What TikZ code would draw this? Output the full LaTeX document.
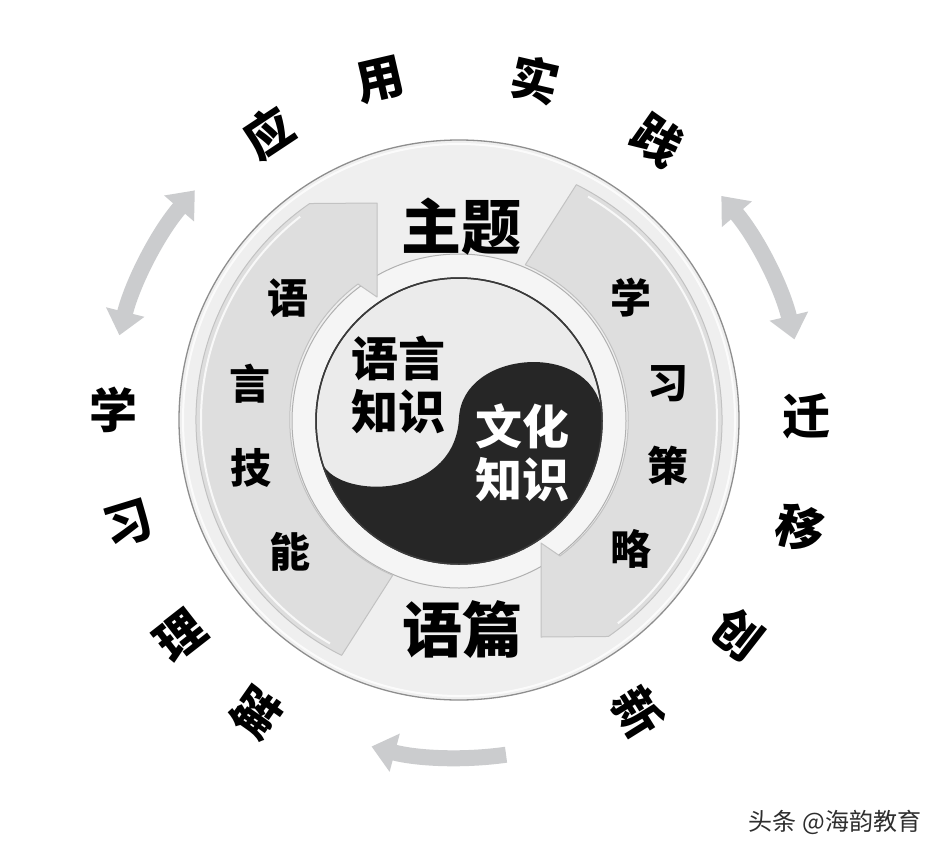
\documentclass[tikz,border=0pt]{standalone}
\usepackage{fontspec}
\newfontfamily\cjk{Noto Sans CJK SC}
\usetikzlibrary{arrows.meta}
\definecolor{discfill}{HTML}{EFEFEF}
\definecolor{discline}{HTML}{8E8E8E}
\definecolor{bandfill}{HTML}{DEDEDE}
\definecolor{bandline}{HTML}{C2C2C2}
\definecolor{ringfill}{HTML}{F5F5F5}
\definecolor{ringline}{HTML}{B0B0B0}
\definecolor{yinlight}{HTML}{EBEBEB}
\definecolor{yindark}{HTML}{262626}
\definecolor{yinline}{HTML}{3A3A3A}
\definecolor{arrowgray}{HTML}{CBCCCE}
\definecolor{wmgray}{HTML}{2E2E2E}
\begin{document}
\begin{tikzpicture}[x=1pt,y=1pt,yscale=-1,
  ringchar/.style={font=\cjk\bfseries\fontsize{48}{48}\selectfont, inner sep=0pt},
  bandchar/.style={font=\cjk\bfseries\fontsize{41}{41}\selectfont, inner sep=0pt},
  bigword/.style={font=\cjk\bfseries\fontsize{60}{60}\selectfont, inner sep=0pt},
  core/.style={font=\cjk\bfseries\fontsize{47}{53}\selectfont, align=center, inner sep=0pt},
  flow/.style={line width=16pt, draw=arrowgray},
  flowtip/.tip={Triangle[width=38pt,length=24pt]},
  band/.style={fill=bandfill, draw=bandline, line width=1pt, line join=round},
  bandlight/.style={draw=white, line width=2pt, opacity=0.8}
]
\useasboundingbox (0,0) rectangle (942,854);
\fill[white] (0,0) rectangle (942,854);
\coordinate (C) at (459,420);
\coordinate (Y) at (459,421);

% outer disc
\filldraw[fill=discfill, draw=discline, line width=1.3pt] (C) circle[radius=280];
\draw[white, line width=2pt, opacity=0.8] (C) circle[radius=276];
% ring round the core
\filldraw[fill=ringfill, draw=ringline, line width=1pt] (Y) circle[radius=167];

% left band arrow (bottom -> top)
\path (C) ++(116.5:263) coordinate (lbt);
\path[band] (lbt) arc[start angle=116.5, end angle=235.4, radius=263]
  -- (377,203) -- (377,297) -- (358,284)
  arc[start angle=233.4, end angle=113, radius=169] -- cycle;
\path (C) ++(120:258) coordinate (lbh);
\draw[bandlight] (lbh) arc[start angle=120, end angle=232, radius=258];
% right band arrow (top -> bottom)
\path (C) ++(296.5:263) coordinate (rbt);
\path[band] (rbt) arc[start angle=296.5, end angle=415.4, radius=263]
  -- (541,637) -- (541,543) -- (560,556)
  arc[start angle=53.4, end angle=-67, radius=169] -- cycle;
\path (C) ++(300:258) coordinate (rbh);
\draw[bandlight] (rbh) arc[start angle=300, end angle=412, radius=258];

% yin-yang core
\filldraw[fill=yinlight, draw=yinline, line width=1.5pt] (Y) circle[radius=143];
\path (Y) ++(-4.4:143) coordinate (YR);
\path (Y) ++(166.4:143) coordinate (YL);
\coordinate (YM) at (459,418);
\fill[yindark] (YR) .. controls (590,340) and (462,350) .. (YM)
  .. controls (455,505) and (322,500) .. (YL)
  arc[start angle=166.4, end angle=-4.4, radius=143] -- cycle;
\draw[yinline, line width=1.5pt] (Y) circle[radius=143];

% core texts
\node[core, text=black] (lk) at (398,385) {语言\\知识};
\node[core, text=white] (ck) at (522,453) {文化\\知识};

% top and bottom words
\node[bigword] (zt) at (461,227) {主题};
\node[bigword] (yp) at (462,630) {语篇};

% band characters
\node[bandchar] (b1) at (288,298) {语};
\node[bandchar] (b2) at (250,384) {言};
\node[bandchar] (b3) at (251,468) {技};
\node[bandchar] (b4) at (290,552) {能};
\node[bandchar] (b5) at (631,298) {学};
\node[bandchar] (b6) at (668,384) {习};
\node[bandchar] (b7) at (668,466) {策};
\node[bandchar] (b8) at (631,549) {略};

% outer ring characters
\node[ringchar, rotate=33.5] (o1) at (268,133) {应};
\node[ringchar, rotate=13] (o2) at (380,80) {用};
\node[ringchar, rotate=-13] (o3) at (535,80) {实};
\node[ringchar, rotate=-35] (o4) at (658,140) {践};
\node[ringchar] (o5) at (806,416) {迁};
\node[ringchar, rotate=-15] (o6) at (800,528) {移};
\node[ringchar, rotate=-38] (o7) at (738,634) {创};
\node[ringchar, rotate=-58] (o8) at (638,712) {新};
\node[ringchar] (o9) at (113,410) {学};
\node[ringchar, rotate=17] (o10) at (128,524) {习};
\node[ringchar, rotate=38] (o11) at (180,636) {理};
\node[ringchar, rotate=55] (o12) at (256,712) {解};

% outer circulating arrows
\path (C) ++(194:350) coordinate (la1);
\draw[flow, flowtip-flowtip] (la1) arc[start angle=194, end angle=221, radius=350];
\path (C) ++(-13.5:345) coordinate (ra1);
\draw[flow, flowtip-flowtip] (ra1) arc[start angle=-13.5, end angle=-40.5, radius=345];
\path (C) ++(82:338) coordinate (ba1);
\draw[flow, -flowtip] (ba1) arc[start angle=82, end angle=105, radius=338];

% watermark
\node[font=\cjk\fontsize{24}{24}\selectfont, text=wmgray, inner sep=0pt] (wm) at (835,822) {头条 @海韵教育};
\end{tikzpicture}
\end{document}
